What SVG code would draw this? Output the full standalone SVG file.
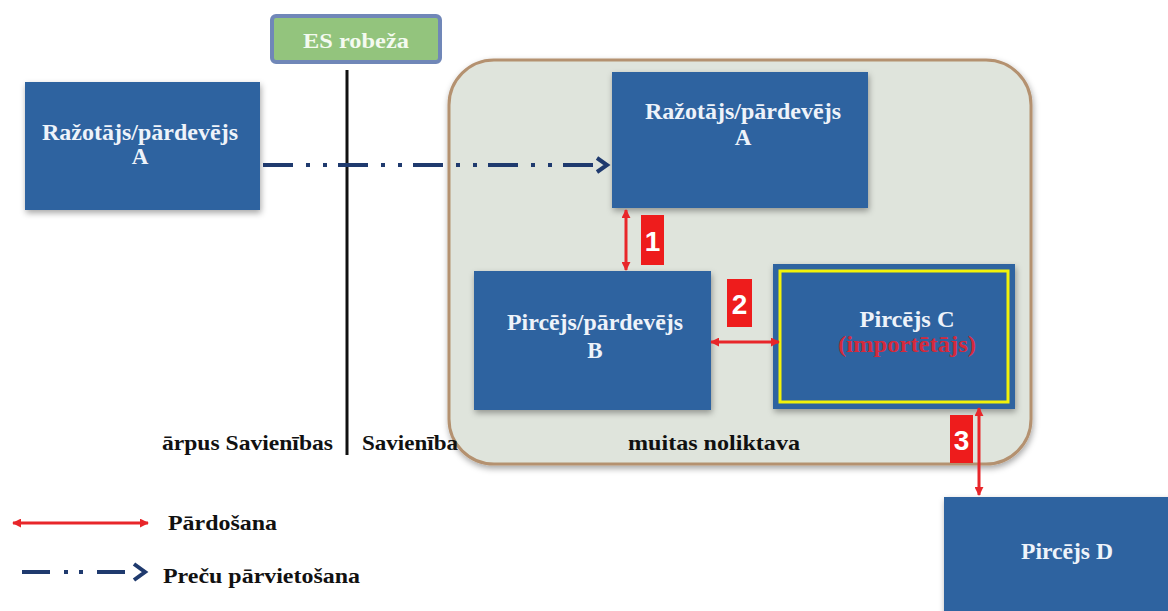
<svg xmlns="http://www.w3.org/2000/svg" width="1168" height="611" viewBox="0 0 1168 611">
<style>
.box{fill:#2d64a0}
.bt{font-family:"Liberation Serif","DejaVu Serif",serif;font-weight:bold;font-size:23px;fill:#eef3fa;text-anchor:middle}
.lbl{font-family:"Liberation Serif","DejaVu Serif",serif;font-weight:bold;font-size:21px;fill:#111}
.num{font-family:"Liberation Sans","DejaVu Sans",sans-serif;font-weight:bold;font-size:28px;fill:#fff;text-anchor:middle}
.red{stroke:#e8262a;stroke-width:3;fill:none}
.move{stroke:#1f3a6e;stroke-width:4;fill:none}
.chev{stroke:#1f3a6e;stroke-width:4;fill:none;stroke-linejoin:miter}
.tag{fill:#ee1c1c}
</style>
<defs>
<filter id="sh" x="-10%" y="-10%" width="120%" height="130%">
<feDropShadow dx="1" dy="3" stdDeviation="3" flood-color="#000" flood-opacity="0.35"/>
</filter>
<marker id="rh" viewBox="0 0 10 10" refX="9" refY="5" markerWidth="3" markerHeight="3" orient="auto-start-reverse">
<path d="M0,0 L10,5 L0,10 z" fill="#e8262a"/>
</marker>
</defs>
<rect width="1168" height="611" fill="#fff"/>

<g id="container">
<rect x="449" y="60" width="582" height="404" rx="45" fill="#dfe4dc" stroke="#b4916f" stroke-width="3" filter="url(#sh)"/>
<text class="lbl" x="714" y="450" text-anchor="middle" textLength="172" lengthAdjust="spacingAndGlyphs">muitas noliktava</text>
</g>

<g id="es-robeza">
<rect x="272" y="16" width="168" height="46" rx="4" fill="#93c47d" stroke="#7087b8" stroke-width="4"/>
<text x="356" y="48" font-family="Liberation Serif, serif" font-weight="bold" font-size="21" fill="#f4faf0" text-anchor="middle" textLength="106" lengthAdjust="spacingAndGlyphs">ES robeža</text>
</g>

<g id="border-line">
<line x1="347" y1="70" x2="347" y2="455" stroke="#111" stroke-width="3"/>
<text class="lbl" x="162" y="450" textLength="171" lengthAdjust="spacingAndGlyphs">ārpus Savienības</text>
<text class="lbl" x="362" y="450" textLength="96" lengthAdjust="spacingAndGlyphs">Savienība</text>
</g>

<g id="node-a-outside">
<rect class="box" x="25" y="82" width="235" height="128" filter="url(#sh)"/>
<text class="bt" x="140" y="140" textLength="196" lengthAdjust="spacingAndGlyphs">Ražotājs/pārdevējs</text>
<text class="bt" x="140" y="164">A</text>
</g>

<g id="node-a-inside">
<rect class="box" x="612" y="72" width="256" height="136" filter="url(#sh)"/>
<text class="bt" x="743" y="119" textLength="196" lengthAdjust="spacingAndGlyphs">Ražotājs/pārdevējs</text>
<text class="bt" x="743" y="145">A</text>
</g>

<g id="node-b">
<rect class="box" x="474" y="271" width="237" height="139" filter="url(#sh)"/>
<text class="bt" x="595" y="330" textLength="176" lengthAdjust="spacingAndGlyphs">Pircējs/pārdevējs</text>
<text class="bt" x="595" y="358">B</text>
</g>

<g id="node-c">
<rect class="box" x="773" y="264" width="242" height="145" filter="url(#sh)"/>
<rect x="780" y="271" width="228" height="131" fill="none" stroke="#f2f20a" stroke-width="3"/>
<text class="bt" x="907" y="327" textLength="95" lengthAdjust="spacingAndGlyphs">Pircējs C</text>
<text class="bt" x="907" y="352" style="fill:#d42a3c" textLength="138" lengthAdjust="spacingAndGlyphs">(importētājs)</text>
</g>

<g id="node-d">
<rect class="box" x="944" y="497" width="228" height="120" filter="url(#sh)"/>
<text class="bt" x="1067" y="559" textLength="92" lengthAdjust="spacingAndGlyphs">Pircējs D</text>
</g>

<g id="connectors">
<path class="move" d="M263,165 H597" stroke-dasharray="30 13 4 13 4 11"/>
<path class="chev" d="M597,158 L607,165 L597,172"/>
<line class="red" x1="626" y1="210" x2="626" y2="270" marker-start="url(#rh)" marker-end="url(#rh)"/>
<line class="red" x1="711" y1="342" x2="779" y2="342" marker-start="url(#rh)" marker-end="url(#rh)"/>
<line class="red" x1="979" y1="408" x2="979" y2="495" marker-start="url(#rh)" marker-end="url(#rh)"/>
<rect class="tag" x="641" y="215" width="23" height="50"/>
<text class="num" x="652.5" y="251">1</text>
<rect class="tag" x="727" y="279" width="25" height="48"/>
<text class="num" x="739.5" y="314">2</text>
<rect class="tag" x="950" y="415" width="23" height="48"/>
<text class="num" x="961.5" y="450">3</text>
</g>

<g id="legend">
<line class="red" x1="13" y1="523" x2="148" y2="523" stroke-width="4" marker-start="url(#rh)" marker-end="url(#rh)"/>
<text class="lbl" x="168" y="530" textLength="109" lengthAdjust="spacingAndGlyphs">Pārdošana</text>
<path class="move" d="M22,572 H130" stroke-dasharray="28 14 4 11 4 14"/>
<path class="chev" d="M134,564 L145,572 L134,580"/>
<text class="lbl" x="163" y="583" textLength="197" lengthAdjust="spacingAndGlyphs">Preču pārvietošana</text>
</g>
</svg>
